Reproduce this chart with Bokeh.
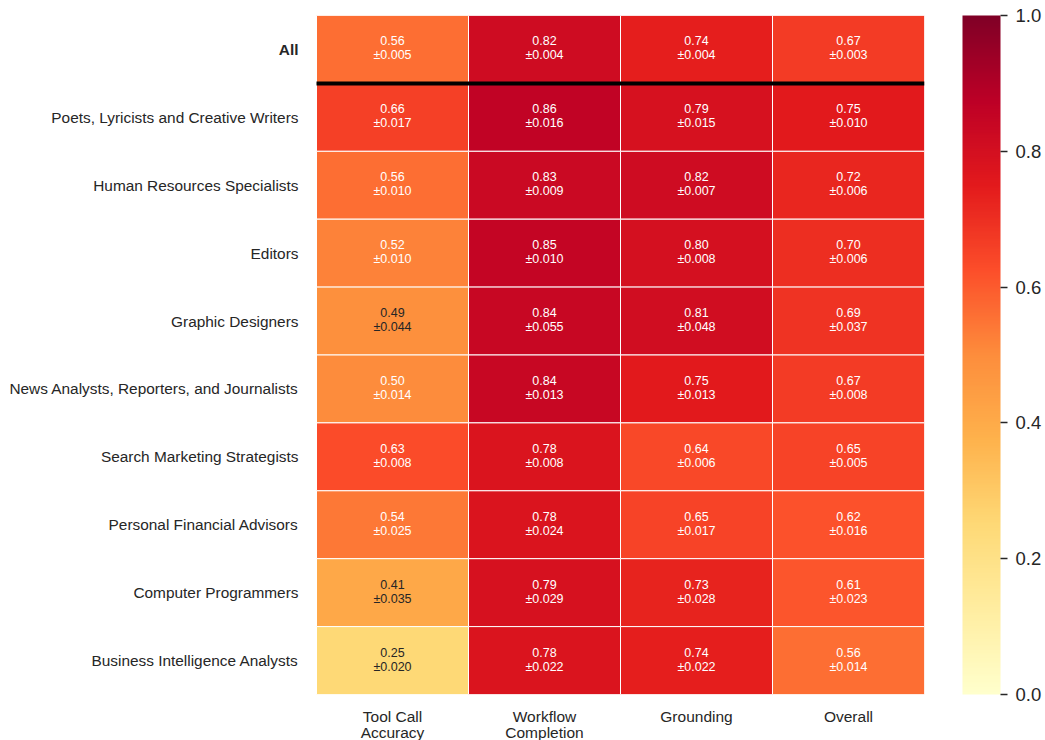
import numpy as np
from bokeh.plotting import figure
from bokeh.models import (ColumnDataSource, Range1d, FixedTicker, LinearColorMapper,
                          ColorBar)
from bokeh.embed import file_html
from bokeh.resources import INLINE
from bokeh.core.properties import value

columns = ["Tool Call\nAccuracy", "Workflow\nCompletion", "Grounding", "Overall"]
rows = ["All", "Poets, Lyricists and Creative Writers", "Human Resources Specialists",
        "Editors", "Graphic Designers", "News Analysts, Reporters, and Journalists",
        "Search Marketing Strategists", "Personal Financial Advisors",
        "Computer Programmers", "Business Intelligence Analysts"]
tool_call = [0.56, 0.66, 0.56, 0.52, 0.49, 0.50, 0.63, 0.54, 0.41, 0.25]
tool_call_err = [0.005, 0.017, 0.010, 0.010, 0.044, 0.014, 0.008, 0.025, 0.035, 0.020]
workflow = [0.82, 0.86, 0.83, 0.85, 0.84, 0.84, 0.78, 0.78, 0.79, 0.78]
workflow_err = [0.004, 0.016, 0.009, 0.010, 0.055, 0.013, 0.008, 0.024, 0.029, 0.022]
grounding = [0.74, 0.79, 0.82, 0.80, 0.81, 0.75, 0.64, 0.65, 0.73, 0.74]
grounding_err = [0.004, 0.015, 0.007, 0.008, 0.048, 0.013, 0.006, 0.017, 0.028, 0.022]
overall = [0.67, 0.75, 0.72, 0.70, 0.69, 0.67, 0.65, 0.62, 0.61, 0.56]
overall_err = [0.003, 0.010, 0.006, 0.006, 0.037, 0.008, 0.005, 0.016, 0.023, 0.014]
colorbar_ticks = [0.0, 0.2, 0.4, 0.6, 0.8, 1.0]

# YlOrRd colormap (ColorBrewer anchors, linearly interpolated as in matplotlib)
anchors = ['#ffffcc', '#ffeda0', '#fed976', '#feb24c', '#fd8d3c', '#fc4e2a',
           '#e31a1c', '#bd0026', '#800026']
rgb = np.array([[int(c[i:i + 2], 16) for i in (1, 3, 5)] for c in anchors], dtype=float)
pos = np.linspace(0, 1, len(anchors))
t = np.linspace(0, 1, 256)
palette = ['#%02x%02x%02x' % tuple(int(round(np.interp(tt, pos, rgb[:, k]))) for k in range(3))
           for tt in t]
mapper = LinearColorMapper(palette=palette, low=0, high=1)

series = [(tool_call, tool_call_err), (workflow, workflow_err),
          (grounding, grounding_err), (overall, overall_err)]
n_rows = len(rows)
n_cols = len(columns)
xs, ys, vals, labels, tcolors = [], [], [], [], []
for ci, (vals_c, errs_c) in enumerate(series):
    for ri, (v, e) in enumerate(zip(vals_c, errs_c)):
        xs.append(ci + 0.5)
        ys.append(n_rows - ri - 0.5)
        vals.append(v)
        labels.append(f"{v:.2f}\n±{e:.3f}")
        tcolors.append("white" if v >= 0.5 else "#262626")
src = ColumnDataSource(dict(x=xs, y=ys, v=vals, label=labels, tc=tcolors))

row_src = ColumnDataSource(dict(
    x=[0] * n_rows,
    y=[n_rows - i - 0.5 for i in range(n_rows)],
    name=rows,
    style=["bold" if r == "All" else "normal" for r in rows]))

FONT = "Liberation Sans"
cell_px = 152           # width of one heat-map column in pixels
label_px = 312          # room for the row labels, inside the frame
frame_left = 4
p = figure(frame_width=cell_px * n_cols + label_px, frame_height=679,
           width=1045, height=740,
           x_range=Range1d(-label_px / cell_px, n_cols), y_range=Range1d(0, n_rows),
           output_backend="svg", toolbar_location=None,
           min_border_left=frame_left, min_border_top=15, min_border_bottom=46,
           min_border_right=121)
p.outline_line_color = None
p.grid.visible = False
p.yaxis.visible = False

p.rect(x="x", y="y", width=1, height=1, source=src,
       fill_color={"field": "v", "transform": mapper},
       line_color="white", line_width=1)
p.text(x="x", y="y", text="label", source=src, text_color="tc",
       text_align="center", text_baseline="middle", text_font_size="12.5px",
       text_font=value(FONT), text_line_height=1.0, y_offset=-1)

# row labels
p.text(x="x", y="y", text="name", source=row_src, x_offset=-18,
       text_align="right", text_baseline="middle", text_font_size="15.4px",
       text_font=value(FONT), text_font_style="style", text_color="#262626")

# separator below the "All" row
p.line(x=[0, n_cols], y=[n_rows - 1, n_rows - 1], line_color="black", line_width=4)

ax = p.xaxis[0]
ax.axis_line_color = None
ax.major_tick_line_color = None
ax.minor_tick_line_color = None
ax.major_label_text_font = FONT
ax.major_label_text_font_size = "15.5px"
ax.major_label_text_color = "#262626"
ax.major_label_text_line_height = 0.95
ax.ticker = FixedTicker(ticks=[i + 0.5 for i in range(n_cols)])
ax.major_label_overrides = {i + 0.5: c for i, c in enumerate(columns)}
ax.major_label_standoff = 7

cb = ColorBar(color_mapper=mapper, width=38, height=679, padding=0, margin=0,
              location=(38, 0), ticker=FixedTicker(ticks=colorbar_ticks),
              major_label_overrides={v: f"{v:.1f}" for v in colorbar_ticks},
              major_label_text_font=FONT, major_label_text_font_size="18.5px",
              major_label_text_color="#262626",
              major_tick_in=0, major_tick_out=7, major_tick_line_color="#262626",
              major_tick_line_width=1.5,
              bar_line_color=None, border_line_color=None, label_standoff=8)
p.add_layout(cb, "right")

open("out.html", "w").write(file_html(p, INLINE))
